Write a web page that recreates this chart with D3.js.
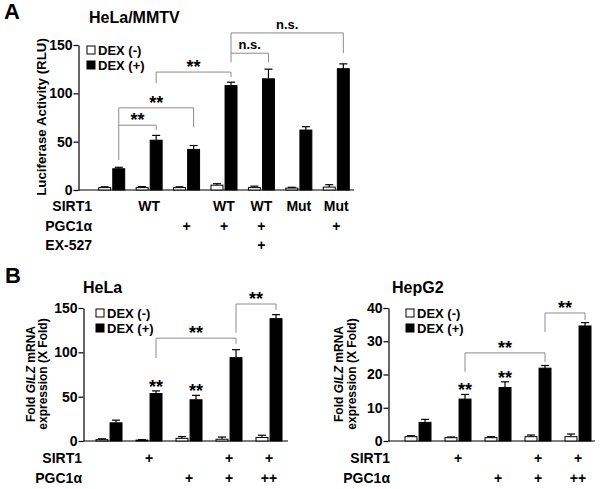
<!DOCTYPE html>
<html>
<head>
<meta charset="utf-8">
<script src="https://cdn.jsdelivr.net/npm/d3@7"></script>
<style>
  body { margin: 0; background: #fff; }
  text { font-family: 'Liberation Sans', Arial, Helvetica, sans-serif; font-weight: bold; }
</style>
</head>
<body>
<svg id="fig" width="604" height="489"></svg>
<script>
// ---- panel A : HeLa/MMTV luciferase ----
const dexNegA = [2.5, 2.5, 2.5, 5, 2.5, 2, 3];
const dexNegErrA = [0.8, 1, 0.8, 1.5, 1.5, 0.8, 2.5];
const dexPosA = [22, 51.5, 42, 108, 115, 62, 125.5];
const dexPosErrA = [1.5, 5, 4, 3.5, 10, 3.5, 5];
const sirt1A = ["", "WT", "", "WT", "WT", "Mut", "Mut"];
const pgcA = ["", "", "+", "+", "+", "", "+"];
const ex527A = ["", "", "", "", "+", "", ""];
const ticksA = [0, 50, 100, 150];
// [from group, to group, bar level, left end, right end, label]
const bracketsA = [
  [0, 1, 67, 31, 62, "**"],
  [0, 2, 85, 67, 65, "**"],
  [1, 3, 122, 110.5, 117, "**"],
  [3, 4, 141.5, 132, 132, "n.s."],
  [3, 6, 162.5, 141.5, 141.5, "n.s."]
];

// ---- panel B : HeLa GILZ ----
const dexNegHeLa = [1.5, 1, 3, 2, 4];
const dexNegErrHeLa = [1, 0.5, 2, 2.5, 2.5];
const dexPosHeLa = [20.5, 53.5, 46.5, 94, 138];
const dexPosErrHeLa = [3, 3, 5, 9, 4.5];
const sirt1B = ["", "+", "", "+", "+"];
const pgcB = ["", "", "+", "+", "++"];
const ticksHeLa = [0, 50, 100, 150];
const starsHeLa = [1, 2];
const bracketsHeLa = [
  [1, 3, 116, 93.5, 109.5, "**"],
  [3, 4, 154.5, 122, 147.5, "**"]
];

// ---- panel B : HepG2 GILZ ----
const dexNegHepG2 = [1.3, 1, 1, 1.3, 1.3];
const dexNegErrHepG2 = [0.3, 0.2, 0.3, 0.5, 0.8];
const dexPosHepG2 = [5.6, 12.6, 16.1, 21.9, 34.6];
const dexPosErrHepG2 = [0.9, 1.4, 1.7, 0.8, 1];
const ticksHepG2 = [0, 10, 20, 30, 40];
const starsHepG2 = [1, 2];
const bracketsHepG2 = [
  [1, 3, 26.5, 20.8, 23.8, "**"],
  [3, 4, 38.5, 32.8, 36.4, "**"]
];

const svg = d3.select("#fig");
const grayLine = "#8c8c8c";

function drawPanel(p) {
  const g = svg.append("g");
  const n = p.neg.length;

  let x = d3.scaleBand()
    .domain(d3.range(n))
    .range(p.band)
    .padding(0);
  let inner = d3.scaleBand()
    .domain(["neg", "pos"])
    .range([-13, 13])
    .paddingInner(0.15);
  let y = d3.scaleLinear()
    .domain([0, p.ymax])
    .range(p.yrange);
  let cx = i => x(i) + x.bandwidth() / 2;
  let posX = i => cx(i) + inner("pos") + inner.bandwidth() / 2;

  // y axis
  g.append("g")
    .attr("transform", `translate(${p.axisX},0)`)
    .call(d3.axisLeft(y).tickValues(p.ticks).tickSize(5).tickSizeOuter(0).tickPadding(1))
    .call(a => a.selectAll("text")
      .style("font-size", "14px")
      .style("font-weight", "bold")
      .style("font-family", "'Liberation Sans', Arial, sans-serif")
      .attr("fill", "#000"))
    .call(a => a.selectAll("line,path").attr("stroke", "#000").attr("stroke-width", 1.2));

  // x base line
  g.append("line")
    .attr("x1", p.axisX).attr("x2", p.axisEnd)
    .attr("y1", y(0)).attr("y2", y(0))
    .attr("stroke", "#000").attr("stroke-width", 1.2);

  // bars
  let series = [
    {key: "neg", vals: p.neg, errs: p.negErr, fill: "#fff"},
    {key: "pos", vals: p.pos, errs: p.posErr, fill: "#000"}
  ];
  series.forEach(s => {
    let bx = i => cx(i) + inner(s.key);
    let bw = inner.bandwidth();
    // error bars
    g.selectAll(null).data(s.vals).enter().append("line")
      .attr("x1", (d, i) => bx(i) + bw / 2).attr("x2", (d, i) => bx(i) + bw / 2)
      .attr("y1", d => y(d)).attr("y2", (d, i) => y(d + s.errs[i]))
      .attr("stroke", "#000").attr("stroke-width", 1.2);
    g.selectAll(null).data(s.vals).enter().append("line")
      .attr("x1", (d, i) => bx(i) + bw / 2 - 4).attr("x2", (d, i) => bx(i) + bw / 2 + 4)
      .attr("y1", (d, i) => y(d + s.errs[i])).attr("y2", (d, i) => y(d + s.errs[i]))
      .attr("stroke", "#000").attr("stroke-width", 1.2);
    g.selectAll(null).data(s.vals).enter().append("rect")
      .attr("x", (d, i) => bx(i))
      .attr("y", d => y(d))
      .attr("width", bw)
      .attr("height", d => y(0) - y(d))
      .attr("fill", s.fill)
      .attr("stroke", "#000")
      .attr("stroke-width", 1);
  });

  // stars over single bars
  (p.stars || []).forEach(i => {
    g.append("text")
      .attr("x", posX(i))
      .attr("y", y(p.pos[i] + p.posErr[i]) + 2)
      .attr("text-anchor", "middle")
      .style("font-size", "18px")
      .text("**");
  });

  // brackets
  p.brackets.forEach(b => {
    let x1 = posX(b[0]), x2 = posX(b[1]);
    let path = d3.path();
    path.moveTo(x1, y(b[3]));
    path.lineTo(x1, y(b[2]));
    path.lineTo(x2, y(b[2]));
    path.lineTo(x2, y(b[4]));
    g.append("path")
      .attr("d", path.toString())
      .attr("fill", "none")
      .attr("stroke", grayLine)
      .attr("stroke-width", 1);
    let isStar = b[5] == "**";
    g.append("text")
      .attr("x", (x1 + x2) / 2)
      .attr("y", isStar ? y(b[2]) + 1 : y(b[2]) - 4)
      .attr("text-anchor", "middle")
      .style("font-size", isStar ? "18px" : "13px")
      .text(b[5]);
  });

  // legend
  [["DEX (-)", "#fff"], ["DEX (+)", "#000"]].forEach((l, k) => {
    g.append("rect")
      .attr("x", p.legend[0]).attr("y", p.legend[1] + k * 15)
      .attr("width", 8).attr("height", 8)
      .attr("fill", l[1]).attr("stroke", "#000").attr("stroke-width", 1);
    g.append("text")
      .attr("x", p.legend[0] + 11).attr("y", p.legend[1] + k * 15 + 8.5)
      .style("font-size", "13px")
      .text(l[0]);
  });

  // title
  g.append("text")
    .attr("x", p.title[1]).attr("y", p.title[2])
    .style("font-size", "16px")
    .text(p.title[0]);

  // y label (one or two lines)
  p.ylabel.forEach(l => {
    let t = g.append("text")
      .attr("transform", `translate(${l.x},${l.y}) rotate(-90)`)
      .attr("text-anchor", "middle")
      .style("font-size", l.size);
    l.parts.forEach(part => {
      t.append("tspan")
        .style("font-style", part[1] ? "italic" : "normal")
        .text(part[0]);
    });
  });

  // condition rows under the axis
  p.rows.forEach(r => {
    g.append("text")
      .attr("x", p.rowLabelX).attr("y", r.y)
      .attr("text-anchor", "end")
      .style("font-size", "14px")
      .text(r.name);
    g.selectAll(null).data(r.vals).enter().append("text")
      .attr("x", (d, i) => cx(i))
      .attr("y", r.y)
      .attr("text-anchor", "middle")
      .style("font-size", "14px")
      .text(d => d);
  });
}

drawPanel({
  neg: dexNegA, negErr: dexNegErrA, pos: dexPosA, posErr: dexPosErrA,
  ticks: ticksA, ymax: 150, yrange: [190, 45],
  band: [93, 355], axisX: 78.5, axisEnd: 354,
  brackets: bracketsA,
  legend: [87, 46],
  title: ["HeLa/MMTV", 89, 23],
  ylabel: [{x: 46, y: 117, size: "13.3px", parts: [["Luciferase Activity (RLU)", false]]}],
  rowLabelX: 92,
  rows: [
    {name: "SIRT1", vals: sirt1A, y: 211},
    {name: "PGC1\u03b1", vals: pgcA, y: 231},
    {name: "EX-527", vals: ex527A, y: 250}
  ]
});

drawPanel({
  neg: dexNegHeLa, negErr: dexNegErrHeLa, pos: dexPosHeLa, posErr: dexPosErrHeLa,
  ticks: ticksHeLa, ymax: 150, yrange: [441, 308],
  band: [89, 289], axisX: 83.5, axisEnd: 288,
  brackets: bracketsHeLa, stars: starsHeLa,
  legend: [96, 309],
  title: ["HeLa", 83, 293],
  ylabel: [
    {x: 35, y: 374, size: "12px", parts: [["Fold ", false], ["GILZ", true], [" mRNA", false]]},
    {x: 47, y: 374, size: "12px", parts: [["expression (X Fold)", false]]}
  ],
  rowLabelX: 82,
  rows: [
    {name: "SIRT1", vals: sirt1B, y: 463},
    {name: "PGC1\u03b1", vals: pgcB, y: 483}
  ]
});

drawPanel({
  neg: dexNegHepG2, negErr: dexNegErrHepG2, pos: dexPosHepG2, posErr: dexPosErrHepG2,
  ticks: ticksHepG2, ymax: 40, yrange: [441, 308],
  band: [398, 598], axisX: 388.5, axisEnd: 595,
  brackets: bracketsHepG2, stars: starsHepG2,
  legend: [406, 309],
  title: ["HepG2", 392, 293],
  ylabel: [
    {x: 343, y: 374, size: "12px", parts: [["Fold ", false], ["GILZ", true], [" mRNA", false]]},
    {x: 356, y: 374, size: "12px", parts: [["expression (X Fold)", false]]}
  ],
  rowLabelX: 390,
  rows: [
    {name: "SIRT1", vals: sirt1B, y: 463},
    {name: "PGC1\u03b1", vals: pgcB, y: 483}
  ]
});

// panel letters
svg.append("text").attr("x", 4).attr("y", 19).style("font-size", "22px").text("A");
svg.append("text").attr("x", 5).attr("y", 283).style("font-size", "22px").text("B");
</script>
</body>
</html>
